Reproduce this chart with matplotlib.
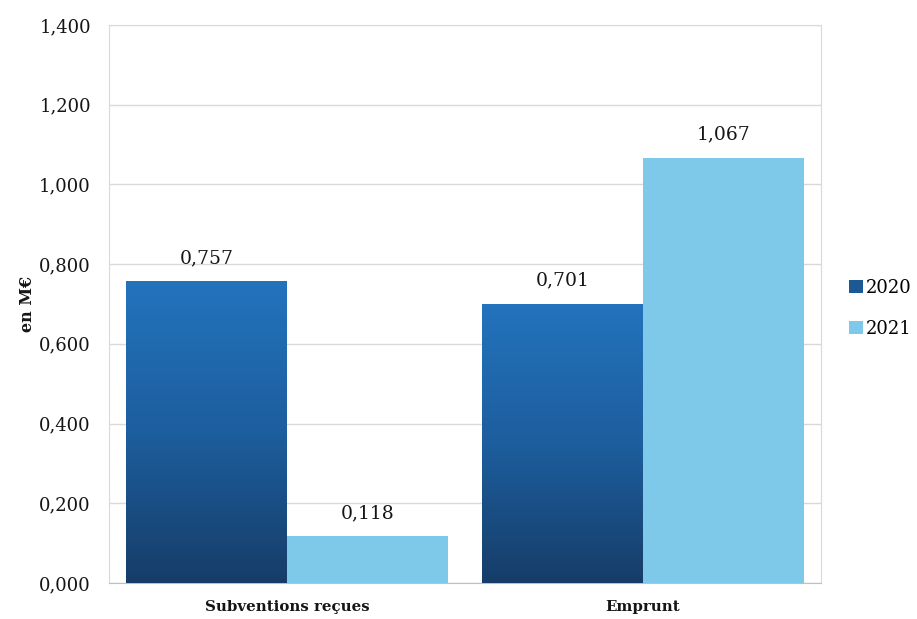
import matplotlib
matplotlib.use("Agg")
import matplotlib.pyplot as plt
import numpy as np
from matplotlib.colors import LinearSegmentedColormap
from matplotlib.patches import Patch

categories = ["Subventions reçues", "Emprunt"]
years = ["2020", "2021"]
values_2020 = [0.757, 0.701]
values_2021 = [0.118, 1.067]
yticks = [0.0, 0.2, 0.4, 0.6, 0.8, 1.0, 1.2, 1.4]

col_2021 = "#7ec8ea"
grad_cmap = LinearSegmentedColormap.from_list("g2020", ["#163d68", "#1d5e9e", "#2373bd"])
txt = "#151515"

def fr(v):
    return f"{v:.3f}".replace(".", ",")

plt.rcParams["font.family"] = ["DejaVu Serif"]

fig = plt.figure(figsize=(9.17, 6.19), dpi=100)
ax = fig.add_axes([0.1189, 0.0582, 0.7764, 0.9014])

x = np.arange(len(categories))
w = 0.452
bars20 = ax.bar(x - w / 2, values_2020, width=w, color="none", edgecolor="none", zorder=3)
bars21 = ax.bar(x + w / 2, values_2021, width=w, color=col_2021, edgecolor="none", zorder=3)

# vertical gradient fill for the 2020 bars
grad = np.linspace(0, 1, 256).reshape(-1, 1)
for b in bars20:
    x0, y0 = b.get_x(), b.get_y()
    x1, y1 = x0 + b.get_width(), y0 + b.get_height()
    im = ax.imshow(grad, cmap=grad_cmap, origin="lower", aspect="auto",
                   extent=[x0, x1, y0, y1], zorder=3)
    im.set_clip_path(b)

ax.set_xlim(-0.5, 1.5)
ax.set_ylim(0, 1.4)
ax.set_yticks(yticks)
ax.set_yticklabels([fr(v) for v in yticks], fontsize=13, color=txt)
ax.set_xticks(x)
ax.set_xticklabels(categories, fontsize=10.8, fontweight="bold", color=txt)
ax.tick_params(axis="y", length=0, pad=13)
ax.tick_params(axis="x", length=0, pad=12)
ax.grid(axis="y", color="#d9d9d9", linewidth=1, zorder=0)
for s in ax.spines.values():
    s.set_color("#d9d9d9")
ax.spines["bottom"].set_color("#bfbfbf")
ax.set_ylabel("en M€", fontsize=11.5, fontweight="bold", color=txt, labelpad=2)

for bars, vals in ((bars20, values_2020), (bars21, values_2021)):
    for b, v in zip(bars, vals):
        ax.annotate(fr(v), (b.get_x() + b.get_width() / 2, v),
                    xytext=(0, 10), textcoords="offset points",
                    ha="center", va="bottom", fontsize=13.5, color=txt)

handles = [Patch(facecolor="#1b5894", label=years[0]),
           Patch(facecolor=col_2021, label=years[1])]
fig.legend(handles=handles, loc="center left", bbox_to_anchor=(0.918, 0.502),
           frameon=False, fontsize=13, handlelength=0.75, handleheight=0.75,
           handletextpad=0.2, labelspacing=1.3, borderaxespad=0)

fig.savefig("out.png", dpi=100, facecolor="white")
